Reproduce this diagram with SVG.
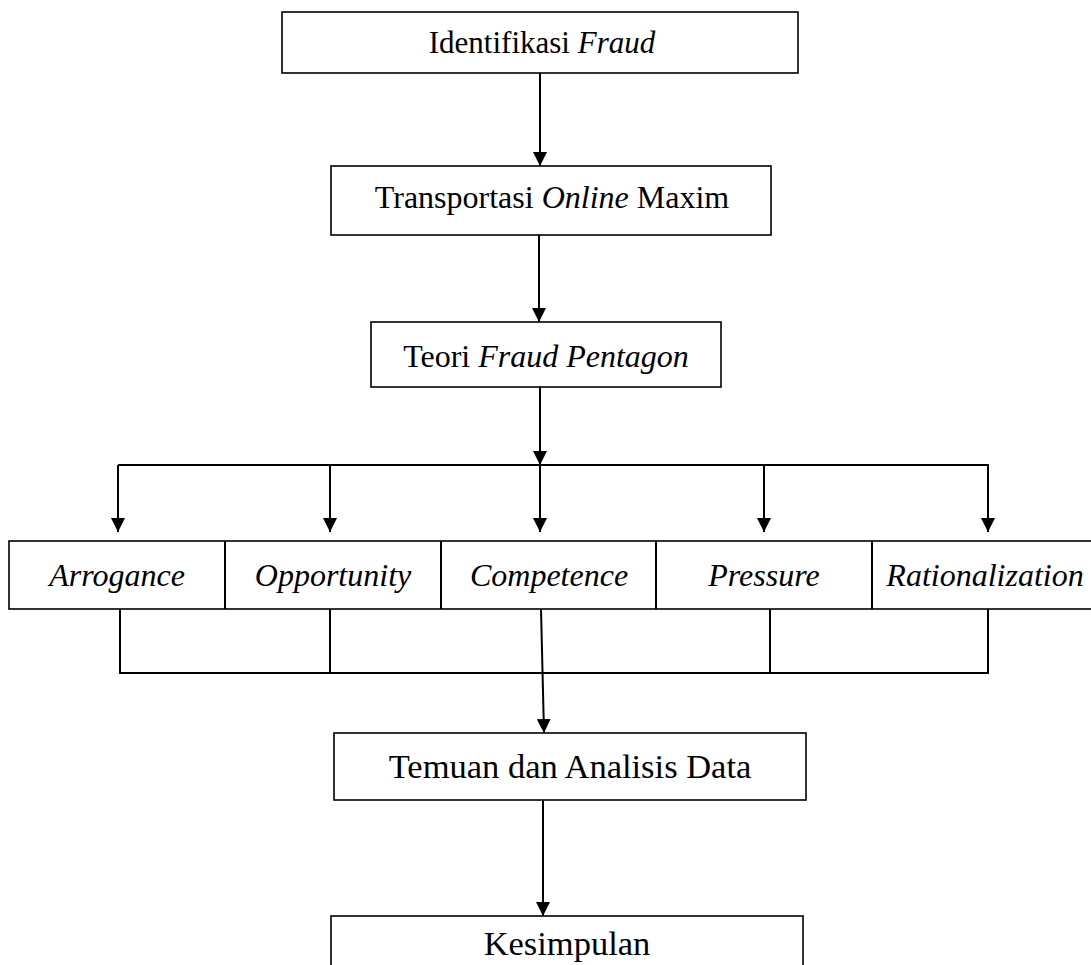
<svg xmlns="http://www.w3.org/2000/svg" width="1091" height="965" viewBox="0 0 1091 965">
<defs>
<marker id="ah" viewBox="0 0 14 14" refX="14" refY="7" markerWidth="14" markerHeight="14" markerUnits="userSpaceOnUse" orient="auto">
<path d="M0,0 L14,7 L0,14 z" fill="#000"/>
</marker>
<style>
.box{fill:#fff;stroke:#000;stroke-width:1.6}
.ln{fill:none;stroke:#000;stroke-width:2}
.arr{fill:none;stroke:#000;stroke-width:2;marker-end:url(#ah)}
text{font-family:"Liberation Serif","Times New Roman",serif;font-size:32px;fill:#000;text-anchor:middle}
.it{font-style:italic}
.big{font-size:34.5px}
</style>
</defs>
<rect width="1091" height="965" fill="#fff"/>
<g id="connectors">
<line class="arr" x1="540" y1="73" x2="540" y2="166"/>
<line class="arr" x1="539" y1="235" x2="539" y2="322"/>
<line class="arr" x1="540" y1="387" x2="540" y2="465"/>
<line class="ln" x1="118" y1="465" x2="989" y2="465"/>
<line class="arr" x1="118" y1="465" x2="118" y2="532"/>
<line class="arr" x1="330" y1="465" x2="330" y2="532"/>
<line class="arr" x1="540" y1="465" x2="540" y2="532"/>
<line class="arr" x1="764" y1="465" x2="764" y2="532"/>
<line class="arr" x1="988" y1="465" x2="988" y2="532"/>
<line class="ln" x1="120" y1="609" x2="120" y2="674"/>
<line class="ln" x1="330" y1="609" x2="330" y2="674"/>
<line class="ln" x1="770" y1="609" x2="770" y2="674"/>
<line class="ln" x1="988" y1="609" x2="988" y2="674"/>
<line class="ln" x1="120" y1="673" x2="988" y2="673"/>
<line class="arr" x1="541" y1="609" x2="544" y2="733"/>
<line class="arr" x1="543" y1="800" x2="543" y2="916"/>
</g>
<g id="n1"><rect class="box" x="282" y="12" width="516" height="61"/><text x="542" y="53" style="font-size:31px">Identifikasi <tspan class="it">Fraud</tspan></text></g>
<g id="n2"><rect class="box" x="331" y="166" width="440" height="69"/><text x="552" y="208">Transportasi <tspan class="it">Online</tspan> Maxim</text></g>
<g id="n3"><rect class="box" x="371" y="322" width="350" height="65"/><text x="546" y="367">Teori <tspan class="it">Fraud Pentagon</tspan></text></g>
<g id="row">
<rect class="box" x="9" y="541" width="1090" height="68"/>
<line class="ln" x1="225" y1="541" x2="225" y2="609"/>
<line class="ln" x1="441" y1="541" x2="441" y2="609"/>
<line class="ln" x1="656" y1="541" x2="656" y2="609"/>
<line class="ln" x1="872" y1="541" x2="872" y2="609"/>
</g>
<g id="n4"><text class="it" x="117" y="586">Arrogance</text></g>
<g id="n5"><text class="it" x="333" y="586">Opportunity</text></g>
<g id="n6"><text class="it" x="549" y="586">Competence</text></g>
<g id="n7"><text class="it" x="764" y="586">Pressure</text></g>
<g id="n8"><text class="it" x="985" y="586">Rationalization</text></g>
<g id="n9"><rect class="box" x="334" y="733" width="472" height="67"/><text class="big" x="570" y="778">Temuan dan Analisis Data</text></g>
<g id="n10"><rect class="box" x="331" y="916" width="472" height="60"/><text class="big" x="567" y="955">Kesimpulan</text></g>
</svg>
